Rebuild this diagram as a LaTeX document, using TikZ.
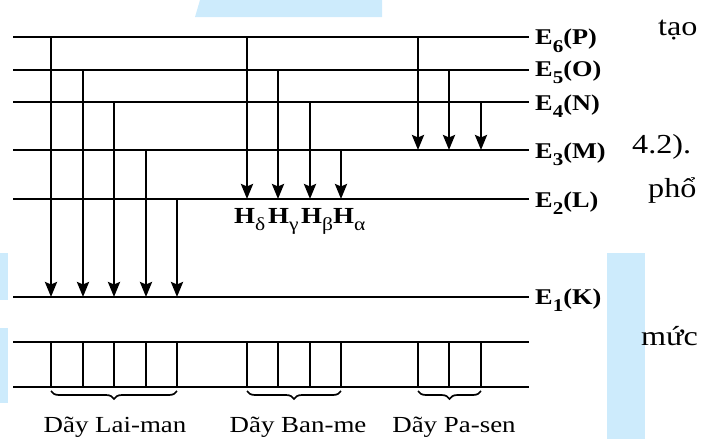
\documentclass[tikz,border=0pt]{standalone}
\usepackage{graphicx}
\usepackage{fontspec}
\setmainfont{Liberation Serif}[FakeStretch=1.17]
\usetikzlibrary{arrows.meta,decorations.pathreplacing}
\definecolor{patchblue}{HTML}{CDEBFC}
\newcommand\lsub[1]{\raisebox{-0.32em}{\scalebox{0.8}{#1}}}
\begin{document}
\begin{tikzpicture}[x=1pt,y=-1pt,
  level/.style={line width=2.6pt},
  trans/.style={line width=2.6pt,-{Stealth[length=15pt,width=12pt,inset=2.5pt]}},
  tickline/.style={line width=2.4pt},
  brc/.style={decorate,decoration={brace,mirror,amplitude=8pt},line width=1.7pt},
  elabel/.style={anchor=base west,inner sep=0pt,font=\fontsize{22.5}{26}\selectfont\bfseries},
  hlabel/.style={anchor=base west,inner sep=0pt,font=\fontsize{23}{27}\selectfont\bfseries},
  serieslabel/.style={anchor=base,inner sep=0pt,font=\fontsize{23}{27}\selectfont},
  pagetext/.style={anchor=base west,inner sep=0pt,font=\fontsize{27.5}{32}\selectfont}]
\useasboundingbox (0,0) rectangle (710,439);
% background patches
\fill[patchblue] (195,17) -- (200,0) -- (382,0) -- (382,17) -- cycle;
\fill[patchblue] (0,253) rectangle (8,300);
\fill[patchblue] (0,328) rectangle (8,403);
\fill[patchblue] (607,253) rectangle (645,439);
% levels
\foreach \n/\y in {6/37,5/70,4/102,3/150,2/199,1/297,a/342,b/387} {
  \coordinate (e\n w) at (13,\y);
  \coordinate (e\n e) at (529,\y);
  \draw[level] (e\n w) -- (e\n e);
}
\node[elabel] (lE6) at (535,45) {E\lsub{6}(P)};
\node[elabel] (lE5) at (535,76) {E\lsub{5}(O)};
\node[elabel] (lE4) at (535,110) {E\lsub{4}(N)};
\node[elabel] (lE3) at (535,158) {E\lsub{3}(M)};
\node[elabel] (lE2) at (535,207) {E\lsub{2}(L)};
\node[elabel] (lE1) at (535,304) {E\lsub{1}(K)};
% Lyman
\foreach \x/\t/\n in {51/37/1,83/70/2,114/102/3,146/150/4,177/199/5} {
  \coordinate (ls\n) at (\x,\t);
  \coordinate (le\n) at (\x,297);
  \draw[trans] (ls\n) -- (le\n);
  \coordinate (lt\n) at (\x,342);
  \coordinate (lb\n) at (\x,387);
  \draw[tickline] (lt\n) -- (lb\n);
}
% Balmer
\foreach \x/\t/\n in {247/37/1,278/70/2,310/102/3,341/150/4} {
  \coordinate (bs\n) at (\x,\t);
  \coordinate (be\n) at (\x,199);
  \draw[trans] (bs\n) -- (be\n);
  \coordinate (bt\n) at (\x,342);
  \coordinate (bb\n) at (\x,387);
  \draw[tickline] (bt\n) -- (bb\n);
}
% Paschen
\foreach \x/\t/\n in {418/37/1,449/70/2,481/102/3} {
  \coordinate (ps\n) at (\x,\t);
  \coordinate (pe\n) at (\x,150);
  \draw[trans] (ps\n) -- (pe\n);
  \coordinate (pt\n) at (\x,342);
  \coordinate (pb\n) at (\x,387);
  \draw[tickline] (pt\n) -- (pb\n);
}
% H labels
\node[hlabel] (hd) at (234,223) {H\lsub{\mdseries δ}};
\node[hlabel] (hg) at (268,223) {H\lsub{\mdseries γ}};
\node[hlabel] (hb) at (301,223) {H\lsub{\mdseries β}};
\node[hlabel] (ha) at (333,223) {H\lsub{\mdseries α}};
% braces
\coordinate (bl1) at (51,391); \coordinate (bl2) at (177,391);
\coordinate (bm1) at (247,391); \coordinate (bm2) at (341,391);
\coordinate (bp1) at (418,391); \coordinate (bp2) at (481,391);
\draw[brc] (bl1) -- (bl2);
\draw[brc] (bm1) -- (bm2);
\draw[brc] (bp1) -- (bp2);
\node[serieslabel] (sl) at (115,432) {Dãy Lai-man};
\node[serieslabel] (sb) at (298,432) {Dãy Ban-me};
\node[serieslabel] (sp) at (454,432) {Dãy Pa-sen};
% page text fragments
\node[pagetext] (t1) at (658,35) {tạo};
\node[pagetext] (t2) at (632,153) {4.2).};
\node[pagetext] (t3) at (648,197) {phổ};
\node[pagetext] (t4) at (641,345) {mức};
\end{tikzpicture}
\end{document}
